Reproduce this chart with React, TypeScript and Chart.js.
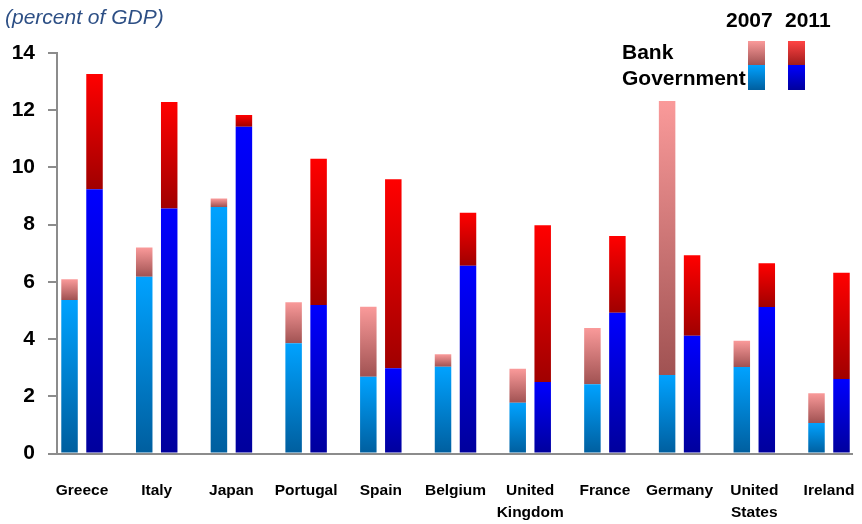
import React, { useEffect, useRef } from 'react';
import { Chart, registerables } from 'chart.js';

Chart.register(...registerables);

const categories: (string | string[])[] = [
  'Greece', 'Italy', 'Japan', 'Portugal', 'Spain', 'Belgium',
  ['United', 'Kingdom'], 'France', 'Germany', ['United', 'States'], 'Ireland',
];

// percent of GDP
const gov2007 = [5.37, 6.18, 8.62, 3.85, 2.68, 3.03, 1.77, 2.42, 2.74, 3.02, 1.07];
const bank2007 = [0.72, 1.02, 0.29, 1.44, 2.45, 0.44, 1.19, 1.97, 9.58, 0.92, 1.04];
const gov2011 = [9.24, 8.56, 11.42, 5.19, 2.98, 6.56, 2.50, 4.92, 4.12, 5.12, 2.60];
const bank2011 = [4.03, 3.73, 0.41, 5.11, 6.61, 1.86, 5.48, 2.68, 2.81, 1.53, 3.72];

const yTicks = [0, 2, 4, 6, 8, 10, 12, 14];

const titleText = '(percent of GDP)';
const legendYears = ['2007', '2011'];
const legendRows = ['Bank', 'Government'];

const FONT = "'Liberation Sans', Arial, sans-serif";

const COLORS = {
  bank2007: ['#fa9a9a', '#a05252'],
  gov2007: ['#00a2ff', '#005e9e'],
  bank2011: ['#ff0000', '#a00000'],
  gov2011: ['#0000ff', '#00009c'],
  legendBank2011: ['#ff4444', '#a01c1c'],
};

function gradientFill(stops: string[], baseArr: number[] | null, vals: number[]) {
  return (c: any) => {
    const chart = c.chart;
    const { ctx, chartArea, scales } = chart;
    if (!chartArea || c.type !== 'data' || !scales.y) return stops[0];
    const i = c.dataIndex;
    const base = baseArr ? baseArr[i] : 0;
    const top = base + vals[i];
    const y0 = scales.y.getPixelForValue(base);
    const y1 = scales.y.getPixelForValue(top);
    if (!isFinite(y0) || !isFinite(y1) || y0 === y1) return stops[0];
    const g = ctx.createLinearGradient(0, y1, 0, y0);
    g.addColorStop(0, stops[0]);
    g.addColorStop(1, stops[1]);
    return g;
  };
}

const overlayPlugin = {
  id: 'overlayText',
  afterDraw(chart: any) {
    const ctx = chart.ctx as CanvasRenderingContext2D;
    ctx.save();
    // title
    ctx.font = `italic 21px ${FONT}`;
    ctx.fillStyle = '#2d4f85';
    ctx.textAlign = 'left';
    ctx.textBaseline = 'alphabetic';
    ctx.fillText(titleText, 5, 24);

    // legend
    ctx.font = `bold 21px ${FONT}`;
    ctx.fillStyle = '#000';
    ctx.fillText(legendYears[0], 726, 27);
    ctx.fillText(legendYears[1], 785, 27);
    ctx.fillText(legendRows[0], 622, 59);
    ctx.fillText(legendRows[1], 622, 85);

    const sw = (x: number, y0: number, y1: number, stops: string[]) => {
      const g = ctx.createLinearGradient(0, y0, 0, y1);
      g.addColorStop(0, stops[0]);
      g.addColorStop(1, stops[1]);
      ctx.fillStyle = g;
      ctx.fillRect(x, y0, 17, y1 - y0);
    };
    sw(748, 41, 65, COLORS.bank2007);
    sw(748, 65, 90, COLORS.gov2007);
    sw(788, 41, 65, COLORS.legendBank2011);
    sw(788, 65, 90, COLORS.gov2011);
    ctx.restore();
  },
};

export default function App() {
  const ref = useRef<HTMLCanvasElement | null>(null);

  useEffect(() => {
    if (!ref.current) return;
    const pts = (arr: number[]) => arr.map((v, i) => ({ x: i, y: v }));
    const common = {
      categoryPercentage: 0.669,
      barPercentage: 0.66,
      borderWidth: 0,
    };
    const chart = new Chart(ref.current, {
      type: 'bar',
      data: {
        datasets: [
          { label: 'Government 2007', data: pts(gov2007), stack: 's2007', backgroundColor: gradientFill(COLORS.gov2007, null, gov2007), ...common },
          { label: 'Bank 2007', data: pts(bank2007), stack: 's2007', backgroundColor: gradientFill(COLORS.bank2007, gov2007, bank2007), ...common },
          { label: 'Government 2011', data: pts(gov2011), stack: 's2011', backgroundColor: gradientFill(COLORS.gov2011, null, gov2011), ...common },
          { label: 'Bank 2011', data: pts(bank2011), stack: 's2011', backgroundColor: gradientFill(COLORS.bank2011, gov2011, bank2011), ...common },
        ] as any,
      },
      options: {
        animation: false,
        responsive: false,
        maintainAspectRatio: false,
        devicePixelRatio: 1,
        layout: { padding: { top: 53, left: 0, right: 10, bottom: 0 } },
        plugins: {
          legend: { display: false },
          title: { display: false },
          tooltip: { enabled: false },
        },
        scales: {
          x: {
            type: 'linear',
            stacked: true,
            offset: false,
            min: -0.335,
            max: 10.308,
            grid: { display: false, drawTicks: false, offset: false },
            border: { display: true, color: '#8c8c8c', width: 2 },
            afterBuildTicks: (scale: any) => {
              scale.ticks = categories.map((_, i) => ({ value: i }));
            },
            afterFit: (scale: any) => {
              scale.height = 70.5;
              scale.paddingLeft = 0;
              scale.paddingRight = 0;
            },
            ticks: {
              autoSkip: false,
              maxRotation: 0,
              minRotation: 0,
              padding: 26,
              color: '#000',
              font: { family: FONT, size: 15.5, weight: 'bold', lineHeight: 1.45 },
              callback: (v: any) => categories[Math.round(Number(v))] as any,
            },
          },
          y: {
            stacked: true,
            min: 0,
            max: 14,
            afterBuildTicks: (scale: any) => {
              scale.ticks = yTicks.map((v) => ({ value: v }));
            },
            afterFit: (scale: any) => {
              scale.width = 57;
              scale.paddingTop = 0;
              scale.paddingBottom = 0;
            },
            grid: {
              display: true,
              drawOnChartArea: false,
              drawTicks: true,
              tickLength: 9,
              tickColor: '#8c8c8c',
              lineWidth: 2,
            },
            border: { display: true, color: '#8c8c8c', width: 2 },
            ticks: {
              padding: 13,
              color: '#000',
              font: { family: FONT, size: 21, weight: 'bold' },
            },
          },
        },
      } as any,
      plugins: [overlayPlugin],
    });
    return () => chart.destroy();
  }, []);

  return (
    <div style={{ position: 'absolute', left: 0, top: 0, width: 862, height: 524, background: '#fff' }}>
      <canvas ref={ref} width={862} height={524} style={{ width: 862, height: 524, display: 'block' }} />
    </div>
  );
}
